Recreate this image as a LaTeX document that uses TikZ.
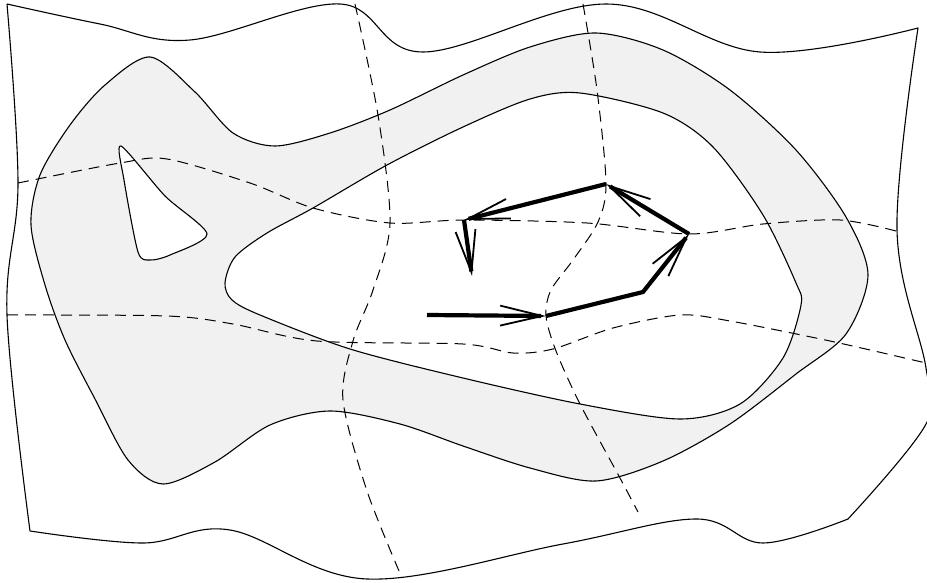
\documentclass[tikz,border=0pt]{standalone}
\usetikzlibrary{arrows.meta}
\definecolor{ringgray}{HTML}{F1F1F1}
\begin{document}
\begin{tikzpicture}[x=1pt,y=-1pt,
  sheet/.style={line width=1.1pt,line join=round},
  grid/.style={line width=1pt,dash pattern=on 11pt off 7pt},
  flow/.style={line width=4.2pt,-{Straight Barb[length=42pt,width=20pt,line width=1.8pt]}}]
\useasboundingbox (0,0) rectangle (927,583);
% shaded ring with its two holes
\filldraw[sheet,fill=ringgray,even odd rule]
  plot[smooth cycle,tension=0.5] coordinates {(150,57) (195,92) (233,133) (275,146) (330,133) (390,110) (463,75) (530,47) (596,33) (663,50) (730,90) (796,150) (846,217) (868,275) (846,334) (796,374) (730,424) (663,461) (596,481) (530,468) (463,446) (400,424) (330,411) (270,425) (215,462) (163,484) (128,460) (95,399) (65,340) (45,285) (31,225) (40,175) (70,125) (105,85)}
  plot[smooth cycle,tension=0.5] coordinates {(225,283) (235,257) (267,233) (313,208) (387,165) (463,127) (530,99) (580,93) (663,113) (713,147) (763,215) (796,283) (801,305) (783,358) (740,404) (680,419) (580,404) (463,378) (350,349) (260,315) (232,300)}
  plot[smooth cycle,tension=0.45] coordinates {(121,146) (165,196) (207,234) (170,255) (150,260) (138,252) (124,180)};
% sheet boundary
\draw[sheet] plot[smooth,tension=0.6] coordinates {(7,4) (100,24) (190,40) (340,4) (423,52) (606,4) (760,52) (918,28)}
  -- plot[smooth,tension=0.6] coordinates {(918,28) (897,230) (926,368) (926,424) (848,519)}
  -- plot[smooth,tension=0.6] coordinates {(848,519) (763,543) (696,519) (563,544) (367,579) (230,530) (143,543) (30,531)}
  -- plot[smooth,tension=0.6] coordinates {(30,531) (7,315) (18,183) (7,4)};
% coordinate lines
\draw[grid] plot[smooth] coordinates {(18,183) (120,163) (167,159) (250,183) (313,208) (390,223) (464,220) (587,223) (689,234) (763,224) (840,220) (896,231)};
\draw[grid] plot[smooth] coordinates {(7,315) (167,316) (233,324) (317,341) (463,344) (513,353) (553,349) (613,328) (680,315) (730,321) (830,341) (926,363)};
\draw[grid] plot[smooth] coordinates {(355,4) (378,115) (390,223) (373,290) (353,341) (343,400) (367,491) (402,578)};
\draw[grid] plot[smooth] coordinates {(583,4) (597,90) (606,183) (598,222) (573,260) (551,290) (546,316) (556,351) (580,404) (620,478) (638,512)};
% loop of arrows
\coordinate (start) at (427,315);
\coordinate (v1) at (546,316);
\coordinate (bend) at (643,292);
\coordinate (v2) at (689,234);
\coordinate (v3) at (606,184);
\coordinate (v4) at (464,220);
\coordinate (stop) at (472,276);
\draw[flow] (v1) -- (bend) -- (v2);
\foreach \a/\b in {start/v1,v2/v3,v3/v4,v4/stop}{\draw[flow] (\a)--(\b);}
\end{tikzpicture}
\end{document}
